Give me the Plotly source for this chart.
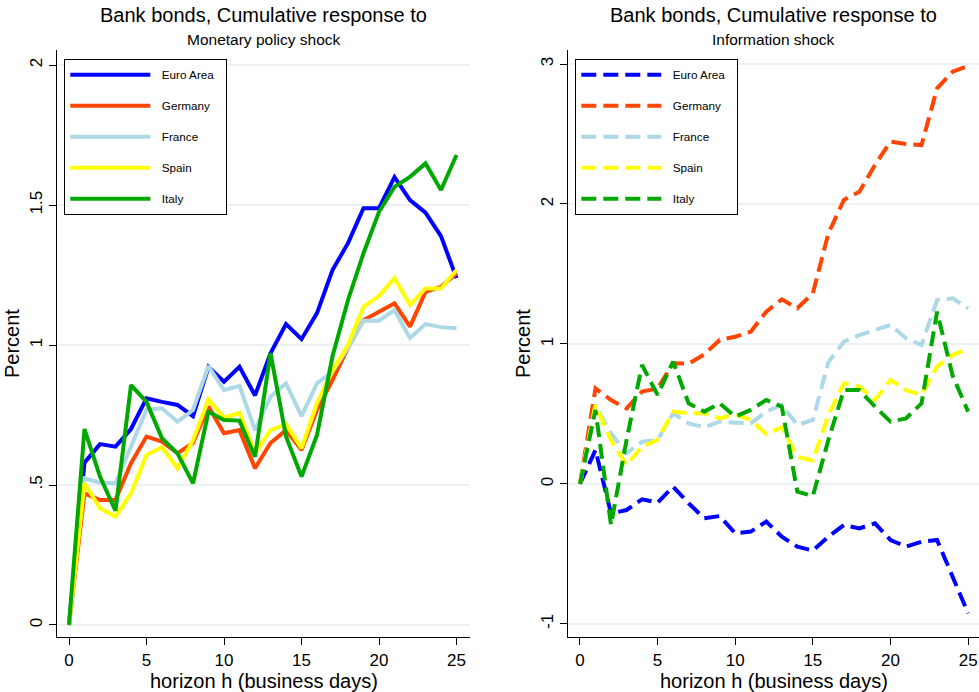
import plotly.graph_objects as go

h = list(range(26))
countries = ["Euro Area", "Germany", "France", "Spain", "Italy"]
colors = ["#0000ff", "#ff4500", "#add8e6", "#ffff00", "#00a800"]

# Monetary policy shock (left panel)
mp_euro = [0, 0.58, 0.646, 0.637, 0.70, 0.81, 0.797, 0.786, 0.746, 0.922, 0.869, 0.922, 0.82,
           0.97, 1.075, 1.021, 1.114, 1.268, 1.364, 1.489, 1.489, 1.60, 1.518, 1.473, 1.389, 1.239]
mp_germany = [0, 0.47, 0.446, 0.446, 0.578, 0.673, 0.655, 0.613, 0.65, 0.78, 0.685, 0.696, 0.56,
              0.65, 0.696, 0.625, 0.768, 0.875, 0.99, 1.089, 1.119, 1.149, 1.066, 1.19, 1.208, 1.256]
mp_france = [0, 0.524, 0.508, 0.506, 0.637, 0.768, 0.774, 0.726, 0.768, 0.925, 0.839, 0.854, 0.696,
             0.815, 0.863, 0.746, 0.863, 0.905, 0.99, 1.087, 1.087, 1.125, 1.025, 1.075, 1.064, 1.06]
mp_spain = [0, 0.506, 0.417, 0.387, 0.47, 0.607, 0.635, 0.56, 0.66, 0.806, 0.74, 0.758, 0.613,
            0.696, 0.717, 0.631, 0.792, 0.91, 1.0, 1.137, 1.175, 1.239, 1.143, 1.202, 1.202, 1.268]
mp_italy = [0, 0.70, 0.53, 0.408, 0.857, 0.797, 0.667, 0.613, 0.506, 0.762, 0.732, 0.73, 0.601,
            0.971, 0.673, 0.53, 0.679, 0.96, 1.161, 1.328, 1.476, 1.565, 1.601, 1.649, 1.554, 1.679]

# Information shock (right panel)
info_euro = [0, 0.243, -0.21, -0.186, -0.11, -0.133, -0.019, -0.138, -0.245, -0.229, -0.352, -0.34, -0.269,
             -0.376, -0.448, -0.476, -0.376, -0.293, -0.317, -0.281, -0.40, -0.448, -0.412, -0.40, -0.662, -0.924]
info_germany = [0, 0.683, 0.60, 0.54, 0.66, 0.683, 0.862, 0.86, 0.925, 1.029, 1.052, 1.088, 1.231,
                1.319, 1.255, 1.362, 1.79, 2.029, 2.088, 2.279, 2.445, 2.429, 2.421, 2.826, 2.945, 2.986]
info_france = [0, 0.564, 0.362, 0.219, 0.302, 0.314, 0.505, 0.433, 0.405, 0.445, 0.438, 0.433, 0.517,
               0.564, 0.421, 0.457, 0.869, 1.017, 1.064, 1.10, 1.136, 1.04, 0.993, 1.314, 1.326, 1.255]
info_spain = [0, 0.564, 0.314, 0.136, 0.267, 0.314, 0.517, 0.505, 0.505, 0.469, 0.50, 0.457, 0.357,
              0.405, 0.195, 0.167, 0.493, 0.719, 0.695, 0.60, 0.743, 0.671, 0.636, 0.838, 0.921, 0.969]
info_italy = [0, 0.529, -0.293, 0.314, 0.85, 0.636, 0.874, 0.576, 0.517, 0.576, 0.481, 0.529, 0.60,
              0.552, -0.055, -0.086, 0.314, 0.671, 0.671, 0.552, 0.445, 0.469, 0.576, 1.231, 0.774, 0.517]

mp_series = [mp_euro, mp_germany, mp_france, mp_spain, mp_italy]
info_series = [info_euro, info_germany, info_france, info_spain, info_italy]

x_ticks = [0, 5, 10, 15, 20, 25]
left_yticks = [0, 0.5, 1, 1.5, 2]
left_ylabels = ["0", ".5", "1", "1.5", "2"]
right_yticks = [-1, 0, 1, 2, 3]
right_ylabels = ["-1", "0", "1", "2", "3"]

title_main = "Bank bonds, Cumulative response to"
sub_left = "Monetary policy shock"
sub_right = "Information shock"
x_title = "horizon h (business days)"
y_title = "Percent"

W, H = 979, 692
FONT = "Liberation Sans, Arial, sans-serif"
PAD = "\u00a0\u00a0"

fig = go.Figure()
for name, col, ys in zip(countries, colors, mp_series):
    fig.add_trace(go.Scatter(x=h, y=ys, mode="lines", name=PAD + name + PAD, legendgroup="L" + name,
                             line=dict(color=col, width=4), xaxis="x", yaxis="y", legend="legend"))
for name, col, ys in zip(countries, colors, info_series):
    fig.add_trace(go.Scatter(x=h, y=ys, mode="lines", name=PAD + name + PAD, legendgroup="R" + name,
                             line=dict(color=col, width=4, dash="15px,7px"),
                             xaxis="x2", yaxis="y2", legend="legend2"))

def px_x(p):
    return p / W

def px_y(p):
    return 1 - p / H

ydom = [px_y(637), px_y(50)]
axis_common = dict(showline=True, linecolor="black", linewidth=1.3, ticks="outside", ticklen=7,
                   tickcolor="black", tickwidth=1.3, zeroline=False, mirror=False,
                   tickfont=dict(family=FONT, size=17, color="black"))

legend_common = dict(xanchor="left", yanchor="top", xref="paper", yref="paper",
                     bgcolor="white", bordercolor="black", borderwidth=1.3, tracegroupgap=12,
                     itemwidth=80, font=dict(family=FONT, size=11.7, color="black"))

fig.update_layout(
    width=W, height=H, margin=dict(l=0, r=0, t=0, b=0),
    paper_bgcolor="white", plot_bgcolor="white",
    font=dict(family=FONT, color="black"),
    xaxis=dict(domain=[px_x(57), px_x(470)], range=[-0.774, 25.87], tickvals=x_ticks,
               showgrid=False, anchor="y", **axis_common),
    yaxis=dict(domain=ydom, range=[-0.043, 2.054], tickvals=left_yticks, ticktext=left_ylabels,
               tickangle=-90, showgrid=True, gridcolor="#eaf2f3", gridwidth=1.5, anchor="x",
               **axis_common),
    xaxis2=dict(domain=[px_x(568), 1.0], range=[-0.77, 25.7], tickvals=x_ticks,
                showgrid=False, anchor="y2", **axis_common),
    yaxis2=dict(domain=ydom, range=[-1.093, 3.1], tickvals=right_yticks, ticktext=right_ylabels,
                tickangle=-90, showgrid=True, gridcolor="#eaf2f3", gridwidth=1.5, anchor="x2",
                **axis_common),
    legend=dict(x=px_x(64), y=px_y(59), **legend_common),
    legend2=dict(x=px_x(575), y=px_y(59), **legend_common),
    showlegend=True,
)

ann = []
for cx, sub in [((57 + 470) / 2, sub_left), ((568 + 979) / 2, sub_right)]:
    ann.append(dict(text=title_main, x=px_x(cx), y=px_y(15), xref="paper", yref="paper",
                    xanchor="center", yanchor="middle", showarrow=False,
                    font=dict(family=FONT, size=20, color="black")))
    ann.append(dict(text=sub, x=px_x(cx), y=px_y(40), xref="paper", yref="paper",
                    xanchor="center", yanchor="middle", showarrow=False,
                    font=dict(family=FONT, size=15.5, color="black")))
for cx in [(57 + 470) / 2, (568 + 979) / 2]:
    ann.append(dict(text=x_title, x=px_x(cx), y=px_y(681), xref="paper", yref="paper",
                    xanchor="center", yanchor="middle", showarrow=False,
                    font=dict(family=FONT, size=20, color="black")))
for cx in [12, 523]:
    ann.append(dict(text=y_title, x=px_x(cx), y=px_y(344), xref="paper", yref="paper",
                    xanchor="center", yanchor="middle", showarrow=False, textangle=-90,
                    font=dict(family=FONT, size=20, color="black")))
fig.update_layout(annotations=ann)

fig.write_html("out.html")
